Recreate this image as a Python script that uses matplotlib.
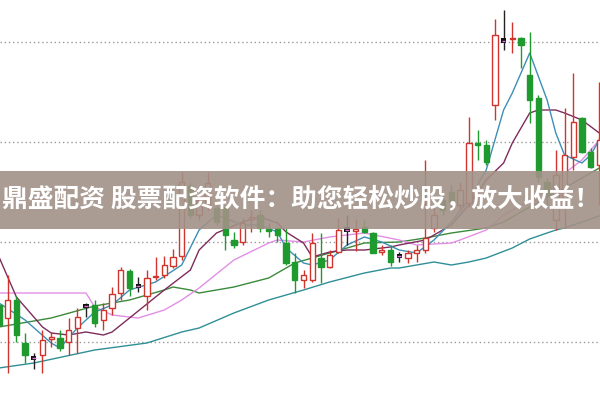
import numpy as np
import matplotlib
matplotlib.use("Agg")
import matplotlib.pyplot as plt
from matplotlib.patches import Rectangle

plt.rcParams['font.family'] = ['Noto Sans CJK SC', 'DejaVu Sans']

# daily candles (price), index 0..69
opens  = [9.37, 9.24, 9.42, 8.99, 8.85, 8.87, 9.03, 9.04, 9.00, 9.14,
          9.37, 9.37, 9.22, 9.34, 9.49, 9.71, 9.58, 9.46, 9.65, 9.67,
          9.76, 9.86, 10.56, 10.27, 10.37, 10.34, 10.35, 10.02, 10.00, 10.23,
          10.27, 10.13, 10.14, 9.99, 9.80, 9.62, 9.62, 9.84, 9.75, 9.90,
          10.14, 10.11, 10.15, 10.09, 9.90, 9.92, 9.88, 9.84, 9.89, 9.92,
          10.14, 10.42, 10.50, 10.37, 10.39, 10.99, 10.97, 11.37, 12.03, 12.03,
          12.04, 11.67, 11.44, 10.60, 10.22, 10.37, 10.85, 11.24, 10.90, 10.77]
highs  = [9.42, 9.67, 9.46, 9.09, 8.89, 9.12, 9.10, 9.12, 9.24, 9.34,
          9.39, 9.42, 9.39, 9.55, 9.75, 9.73, 9.65, 9.72, 9.85, 9.86,
          9.93, 10.70, 10.59, 10.47, 10.70, 10.37, 10.37, 10.10, 10.24, 10.32,
          10.32, 10.19, 10.15, 10.14, 9.89, 9.72, 10.09, 10.09, 9.92, 10.24,
          10.27, 10.23, 10.22, 10.10, 9.97, 9.97, 9.90, 9.92, 9.97, 10.82,
          10.37, 10.49, 10.57, 10.60, 11.25, 11.12, 11.02, 12.23, 12.32, 12.20,
          12.05, 12.10, 11.47, 10.64, 10.92, 11.34, 11.69, 11.25, 10.94, 11.60]
lows   = [9.12, 8.69, 9.00, 8.79, 8.73, 8.69, 8.95, 8.91, 8.87, 8.89,
          9.25, 9.15, 9.12, 9.27, 9.42, 9.46, 9.50, 9.32, 9.62, 9.64,
          9.74, 9.82, 10.24, 10.22, 10.32, 10.17, 9.92, 9.94, 9.97, 10.10,
          10.10, 10.05, 10.00, 9.77, 9.49, 9.54, 9.60, 9.59, 9.74, 9.89,
          9.97, 9.91, 10.09, 9.89, 9.87, 9.76, 9.80, 9.79, 9.80, 9.89,
          10.10, 10.27, 10.34, 10.32, 10.35, 10.82, 10.77, 11.22, 11.92, 11.89,
          11.74, 11.19, 10.60, 10.35, 10.12, 10.14, 10.72, 10.89, 10.74, 10.37]
closes = [9.17, 9.42, 9.07, 8.87, 8.83, 9.02, 9.05, 8.94, 9.12, 9.25,
          9.35, 9.19, 9.32, 9.48, 9.72, 9.54, 9.54, 9.64, 9.66, 9.77,
          9.85, 10.60, 10.27, 10.42, 10.59, 10.20, 10.07, 9.97, 10.19, 10.25,
          10.14, 10.11, 10.07, 9.79, 9.62, 9.67, 9.99, 9.75, 9.87, 10.12,
          10.11, 10.13, 10.10, 9.89, 9.92, 9.80, 9.84, 9.89, 9.92, 10.04,
          10.27, 10.32, 10.40, 10.52, 10.99, 10.97, 10.80, 12.07, 12.00, 12.04,
          11.97, 11.42, 10.65, 10.47, 10.67, 10.87, 11.20, 10.90, 10.75, 11.02]
doji_idx = [4, 10, 16, 40, 46, 58]

# moving averages (candle index, price)
ma5_idx = [0, 3, 6, 7, 9, 11, 13, 15, 18, 21, 23, 25, 28, 30, 32, 33, 35, 36, 38,
           40, 42, 44, 46, 48, 50, 52, 54, 56, 58, 59, 61, 63, 64, 65, 67, 68, 69]
ma5 = [9.39, 9.22, 8.99, 8.94, 9.14, 9.30, 9.37, 9.52, 9.60, 9.77, 10.12, 10.27,
       10.17, 10.17, 10.10, 9.94, 9.79, 9.77, 9.82, 9.97, 10.05, 10.00, 9.92, 9.89,
       10.02, 10.20, 10.42, 10.72, 11.32, 11.49, 11.89, 11.42, 11.09, 10.87, 10.79,
       10.87, 11.02]
ma10_idx = [0, 2, 5, 6, 8, 10, 12, 13, 15, 19, 22, 23, 25, 28, 30, 32, 33, 35, 36,
            38, 40, 42, 45, 46, 49, 52, 54, 56, 58, 59, 61, 62, 64, 65, 67, 69]
ma10 = [9.85, 9.45, 9.15, 9.09, 9.07, 9.10, 9.07, 9.10, 9.24, 9.52, 9.72, 9.92,
        10.09, 10.20, 10.25, 10.19, 10.10, 9.99, 9.85, 9.90, 9.92, 9.92, 9.95, 9.97,
        10.02, 10.17, 10.37, 10.62, 10.79, 10.99, 11.29, 11.32, 11.32, 11.29, 11.22,
        11.09]
ma20_idx = [0, 10, 11, 13, 16, 19, 21, 23, 27, 31, 32, 35, 38, 42, 46, 48, 52, 53,
            56, 58, 60, 63, 64, 67, 69]
ma20 = [9.49, 9.49, 9.35, 9.27, 9.24, 9.32, 9.42, 9.54, 9.82, 9.99, 10.02, 10.00,
        10.05, 10.09, 10.02, 9.97, 9.99, 10.02, 10.12, 10.27, 10.37, 10.45, 10.62,
        10.82, 11.02]
ma30_idx = [0, 6, 11, 15, 19, 20, 22, 23, 27, 31, 34, 38, 42, 46, 49, 52, 56, 58,
            61, 65, 69]
ma30 = [9.15, 9.24, 9.36, 9.42, 9.52, 9.55, 9.52, 9.49, 9.55, 9.64, 9.79, 9.89,
        9.99, 10.00, 10.04, 10.09, 10.14, 10.20, 10.35, 10.54, 10.74]
ma60_idx = [0, 4, 11, 17, 21, 23, 27, 31, 35, 38, 42, 45, 46, 50, 52, 54, 56, 59,
            61, 64, 65, 69]
ma60 = [8.74, 8.79, 8.92, 8.99, 9.10, 9.14, 9.29, 9.42, 9.52, 9.60, 9.69, 9.74,
        9.74, 9.80, 9.77, 9.80, 9.84, 9.94, 10.03, 10.12, 10.14, 10.26]

grid_levels = [9, 10, 11, 12]
banner = '鼎盛配资 股票配资软件：助您轻松炒股，放大收益！'

up_col = '#d0342c'
dn_col = '#1f9a2e'

fig = plt.figure(figsize=(6, 4), dpi=100)
ax = fig.add_axes([0, 0, 1, 1])

for g in grid_levels:
    ax.axhline(g, color='#9a9a9a', lw=1, linestyle=(0, (1, 2)), zorder=0)

ax.plot(ma60_idx, ma60, color='#2f8f96', lw=1, zorder=1)
ax.plot(ma30_idx, ma30, color='#3b8a3b', lw=1, zorder=1)
ax.plot(ma20_idx, ma20, color='#e28fe6', lw=1, zorder=1)
ax.plot(ma10_idx, ma10, color='#7d2c5c', lw=1, zorder=1)
ax.plot(ma5_idx, ma5, color='#3d8fb5', lw=1, zorder=1)

w = 0.62
for i in range(len(opens)):
    o, h, l, c = opens[i], highs[i], lows[i], closes[i]
    if i in doji_idx:
        ax.vlines(i, l, h, color='#222222', lw=1, zorder=2)
        ax.bar(i, 0.045, bottom=(o + c) / 2 - 0.022, width=w, color='#111111', zorder=3)
        ax.hlines((o + c) / 2, i - 0.2, i + 0.2, color='#e070e0', lw=1, zorder=4)
    elif c >= o:
        ax.vlines(i, l, h, color=up_col, lw=1, zorder=2)
        ax.bar(i, max(c - o, 0.01), bottom=o, width=w, facecolor='white',
               edgecolor=up_col, lw=1, zorder=3)
    else:
        ax.vlines(i, l, h, color=dn_col, lw=1, zorder=2)
        ax.bar(i, max(o - c, 0.01), bottom=c, width=w, facecolor=dn_col,
               edgecolor=dn_col, lw=1, zorder=3)

ax.set_xlim(0.115, 69.08)
ax.set_ylim(8.42, 12.42)
ax.axis('off')

fig.add_artist(Rectangle((0, 0.4275), 1, 0.145, transform=fig.transFigure,
                         facecolor='#a29187', alpha=0.9, edgecolor='none', zorder=5))
fig.text(0.502, 0.5025, banner, color='white', fontsize=18.5, fontweight='bold',
         ha='center', va='center', zorder=6)

fig.savefig('out.png', dpi=100)
